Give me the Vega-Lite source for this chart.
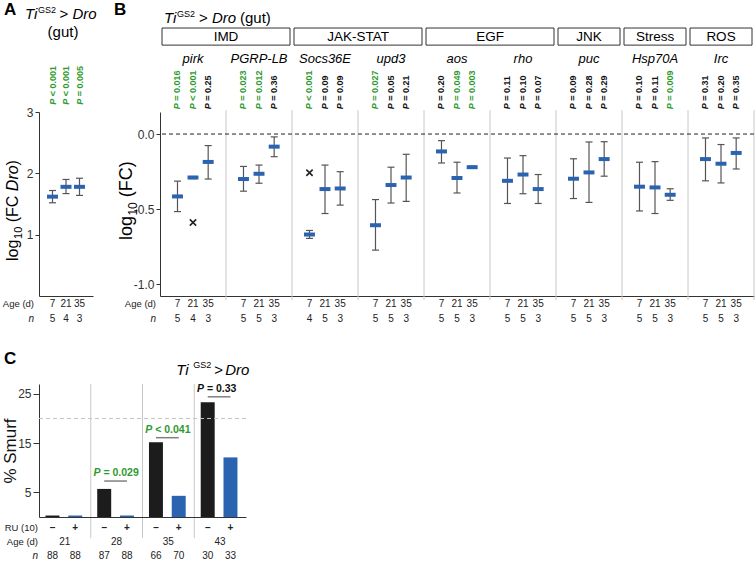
{
  "$schema": "https://vega.github.io/schema/vega-lite/v6.json",
  "padding": {"left": 1, "top": 0, "right": 0, "bottom": 0},
  "config": {
    "font": "Liberation Sans",
    "view": {"stroke": null},
    "axis": {"labelFont": "Liberation Sans", "titleFont": "Liberation Sans"},
    "text": {"font": "Liberation Sans"}
  },
  "datasets": {
    "a": [
      {"age": "7", "mean": 1.62, "lo": 1.52, "hi": 1.72, "p": "< 0.001", "sig": "sig", "n": 5},
      {"age": "21", "mean": 1.78, "lo": 1.67, "hi": 1.9, "p": "< 0.001", "sig": "sig", "n": 4},
      {"age": "35", "mean": 1.78, "lo": 1.64, "hi": 1.92, "p": "= 0.005", "sig": "sig", "n": 3}
    ],
    "b": [
      {"gene": "pirk", "age": "7", "mean": -0.416, "lo": -0.517, "hi": -0.314, "p": "= 0.016", "sig": "sig", "n": 5},
      {"gene": "pirk", "age": "21", "mean": -0.29, "lo": -0.297, "hi": -0.283, "p": "< 0.001", "sig": "sig", "n": 4},
      {"gene": "pirk", "age": "35", "mean": -0.186, "lo": -0.3, "hi": -0.077, "p": "= 0.25", "sig": "ns", "n": 3},
      {"gene": "PGRP-LB", "age": "7", "mean": -0.3, "lo": -0.381, "hi": -0.216, "p": "= 0.023", "sig": "sig", "n": 5},
      {"gene": "PGRP-LB", "age": "21", "mean": -0.265, "lo": -0.328, "hi": -0.207, "p": "= 0.012", "sig": "sig", "n": 5},
      {"gene": "PGRP-LB", "age": "35", "mean": -0.084, "lo": -0.151, "hi": -0.019, "p": "= 0.36", "sig": "ns", "n": 3},
      {"gene": "Socs36E", "age": "7", "mean": -0.67, "lo": -0.696, "hi": -0.643, "p": "< 0.001", "sig": "sig", "n": 4},
      {"gene": "Socs36E", "age": "21", "mean": -0.367, "lo": -0.53, "hi": -0.207, "p": "= 0.09", "sig": "ns", "n": 5},
      {"gene": "Socs36E", "age": "35", "mean": -0.363, "lo": -0.474, "hi": -0.251, "p": "= 0.09", "sig": "ns", "n": 3},
      {"gene": "upd3", "age": "7", "mean": -0.608, "lo": -0.774, "hi": -0.437, "p": "= 0.027", "sig": "sig", "n": 5},
      {"gene": "upd3", "age": "21", "mean": -0.34, "lo": -0.46, "hi": -0.221, "p": "= 0.05", "sig": "ns", "n": 5},
      {"gene": "upd3", "age": "35", "mean": -0.29, "lo": -0.449, "hi": -0.135, "p": "= 0.21", "sig": "ns", "n": 3},
      {"gene": "aos", "age": "7", "mean": -0.116, "lo": -0.193, "hi": -0.044, "p": "= 0.20", "sig": "ns", "n": 5},
      {"gene": "aos", "age": "21", "mean": -0.293, "lo": -0.393, "hi": -0.188, "p": "= 0.049", "sig": "sig", "n": 5},
      {"gene": "aos", "age": "35", "mean": -0.221, "lo": -0.228, "hi": -0.214, "p": "= 0.003", "sig": "sig", "n": 3},
      {"gene": "rho", "age": "7", "mean": -0.312, "lo": -0.463, "hi": -0.16, "p": "= 0.11", "sig": "ns", "n": 5},
      {"gene": "rho", "age": "21", "mean": -0.27, "lo": -0.398, "hi": -0.144, "p": "= 0.10", "sig": "ns", "n": 5},
      {"gene": "rho", "age": "35", "mean": -0.367, "lo": -0.463, "hi": -0.27, "p": "= 0.07", "sig": "ns", "n": 3},
      {"gene": "puc", "age": "7", "mean": -0.298, "lo": -0.43, "hi": -0.165, "p": "= 0.09", "sig": "ns", "n": 5},
      {"gene": "puc", "age": "21", "mean": -0.256, "lo": -0.456, "hi": -0.053, "p": "= 0.28", "sig": "ns", "n": 5},
      {"gene": "puc", "age": "35", "mean": -0.167, "lo": -0.281, "hi": -0.051, "p": "= 0.29", "sig": "ns", "n": 3},
      {"gene": "Hsp70A", "age": "7", "mean": -0.351, "lo": -0.513, "hi": -0.188, "p": "= 0.10", "sig": "ns", "n": 5},
      {"gene": "Hsp70A", "age": "21", "mean": -0.356, "lo": -0.53, "hi": -0.184, "p": "= 0.11", "sig": "ns", "n": 5},
      {"gene": "Hsp70A", "age": "35", "mean": -0.405, "lo": -0.442, "hi": -0.365, "p": "= 0.009", "sig": "sig", "n": 3},
      {"gene": "Irc", "age": "7", "mean": -0.167, "lo": -0.312, "hi": -0.026, "p": "= 0.31", "sig": "ns", "n": 5},
      {"gene": "Irc", "age": "21", "mean": -0.198, "lo": -0.326, "hi": -0.07, "p": "= 0.20", "sig": "ns", "n": 5},
      {"gene": "Irc", "age": "35", "mean": -0.126, "lo": -0.233, "hi": -0.026, "p": "= 0.35", "sig": "ns", "n": 3}
    ],
    "bout": [
      {"gene": "pirk", "age": "21", "value": -0.59},
      {"gene": "Socs36E", "age": "7", "value": -0.258}
    ],
    "groups": [
      {"group": "IMD", "g1": "pirk", "g2": "PGRP-LB"},
      {"group": "JAK-STAT", "g1": "Socs36E", "g2": "upd3"},
      {"group": "EGF", "g1": "aos", "g2": "rho"},
      {"group": "JNK", "g1": "puc", "g2": "puc"},
      {"group": "Stress", "g1": "Hsp70A", "g2": "Hsp70A"},
      {"group": "ROS", "g1": "Irc", "g2": "Irc"}
    ],
    "c": [
      {"age": "21", "ru": "–", "pct": 0.3, "n": 88},
      {"age": "21", "ru": "+", "pct": 0.3, "n": 88},
      {"age": "28", "ru": "–", "pct": 5.7, "n": 87},
      {"age": "28", "ru": "+", "pct": 0.3, "n": 88},
      {"age": "35", "ru": "–", "pct": 15.2, "n": 66},
      {"age": "35", "ru": "+", "pct": 4.3, "n": 70},
      {"age": "43", "ru": "–", "pct": 23.3, "n": 30},
      {"age": "43", "ru": "+", "pct": 12.1, "n": 33}
    ],
    "csig": [
      {"age": "28", "y": 7.3, "p": "= 0.029", "sig": "sig"},
      {"age": "35", "y": 16.1, "p": "< 0.041", "sig": "sig"},
      {"age": "43", "y": 24.4, "p": "= 0.33", "sig": "ns"}
    ]
  },
  "spacing": 26,
  "vconcat": [
    {
      "bounds": "flush",
      "spacing": 67,
      "hconcat": [
        {
          "width": 54,
          "height": 184,
          "layer": [
            {"data": {"name": "a"},
             "mark": {"type": "rule", "color": "#555", "strokeWidth": 1.2},
             "encoding": {
               "x": {"field": "age", "type": "ordinal", "title": null, "scale": {"type": "point", "domain": ["7", "21", "35"], "padding": 1}, "axis": {"orient": "bottom", "labels": false, "ticks": false, "title": null, "domainColor": "#333", "grid": false}},
               "y": {"field": "lo", "type": "quantitative", "title": null, "scale": {"domain": [0, 3], "nice": false, "zero": false}, "axis": {"values": [1, 2, 3], "format": "d", "title": null, "grid": false, "domainColor": "#333", "tickColor": "#333", "tickSize": 4, "labelFontSize": 12, "labelColor": "#333", "labelPadding": 2}},
               "y2": {"field": "hi"}
             }},
            {"data": {"name": "a"},
             "mark": {"type": "tick", "orient": "horizontal", "size": 7, "thickness": 1.2, "color": "#555", "opacity": 1},
             "encoding": {"x": {"field": "age", "type": "ordinal", "title": null}, "y": {"field": "lo", "type": "quantitative", "title": null}}},
            {"data": {"name": "a"},
             "mark": {"type": "tick", "orient": "horizontal", "size": 7, "thickness": 1.2, "color": "#555", "opacity": 1},
             "encoding": {"x": {"field": "age", "type": "ordinal", "title": null}, "y": {"field": "hi", "type": "quantitative", "title": null}}},
            {"data": {"name": "a"},
             "mark": {"type": "tick", "orient": "horizontal", "size": 11, "thickness": 4, "color": "#2a64b0", "opacity": 1},
             "encoding": {"x": {"field": "age", "type": "ordinal", "title": null}, "y": {"field": "mean", "type": "quantitative", "title": null}}},
            {"data": {"name": "a"},
             "mark": {"type": "text", "text": "P", "angle": 270, "align": "left", "baseline": "middle", "fontSize": 9, "fontWeight": "bold", "fontStyle": "italic"},
             "encoding": {"x": {"field": "age", "type": "ordinal", "title": null}, "y": {"datum": 3.119, "type": "quantitative", "title": null},
               "fill": {"field": "sig", "type": "nominal", "scale": {"domain": ["sig", "ns"], "range": ["#2e9a2e", "#111111"]}, "legend": null}}},
            {"data": {"name": "a"},
             "mark": {"type": "text", "angle": 270, "align": "left", "baseline": "middle", "fontSize": 9, "fontWeight": "bold", "dx": 8.5},
             "encoding": {"x": {"field": "age", "type": "ordinal", "title": null}, "y": {"datum": 3.119, "type": "quantitative", "title": null}, "text": {"field": "p"},
               "fill": {"field": "sig", "type": "nominal", "scale": {"domain": ["sig", "ns"], "range": ["#2e9a2e", "#111111"]}, "legend": null}}},
            {"data": {"name": "a"},
             "mark": {"type": "text", "baseline": "middle", "fontSize": 10, "color": "#222"},
             "encoding": {"x": {"field": "age", "type": "ordinal", "title": null}, "y": {"datum": -0.13, "type": "quantitative", "title": null}, "text": {"field": "age"}}},
            {"data": {"name": "a"},
             "mark": {"type": "text", "baseline": "middle", "fontSize": 10, "color": "#222"},
             "encoding": {"x": {"field": "age", "type": "ordinal", "title": null}, "y": {"datum": -0.375, "type": "quantitative", "title": null}, "text": {"field": "n"}}},
            {"data": {"values": [{}]},
             "mark": {"type": "text", "text": "A", "fontSize": 17, "fontWeight": "bold", "align": "left", "baseline": "alphabetic", "dx": -48.5},
             "encoding": {"x": {"datum": "7", "type": "ordinal", "title": null}, "y": {"datum": 4.582, "type": "quantitative", "title": null}}},
            {"data": {"values": [{}]},
             "mark": {"type": "text", "text": "Ti", "fontSize": 15, "fontStyle": "italic", "align": "left", "baseline": "alphabetic", "dx": -27.5},
             "encoding": {"x": {"datum": "7", "type": "ordinal", "title": null}, "y": {"datum": 4.516, "type": "quantitative", "title": null}}},
            {"data": {"values": [{}]},
             "mark": {"type": "text", "text": "GS2", "fontSize": 9, "align": "left", "baseline": "alphabetic", "dx": -14.5},
             "encoding": {"x": {"datum": "7", "type": "ordinal", "title": null}, "y": {"datum": 4.614, "type": "quantitative", "title": null}}},
            {"data": {"values": [{}]},
             "mark": {"type": "text", "text": ">", "fontSize": 15, "align": "left", "baseline": "alphabetic", "dx": 7},
             "encoding": {"x": {"datum": "7", "type": "ordinal", "title": null}, "y": {"datum": 4.516, "type": "quantitative", "title": null}}},
            {"data": {"values": [{}]},
             "mark": {"type": "text", "text": "Dro", "fontSize": 15, "fontStyle": "italic", "align": "left", "baseline": "alphabetic", "dx": 20},
             "encoding": {"x": {"datum": "7", "type": "ordinal", "title": null}, "y": {"datum": 4.516, "type": "quantitative", "title": null}}},
            {"data": {"values": [{}]},
             "mark": {"type": "text", "text": "(gut)", "fontSize": 15, "align": "center", "baseline": "alphabetic", "dx": 10.5},
             "encoding": {"x": {"datum": "7", "type": "ordinal", "title": null}, "y": {"datum": 4.223, "type": "quantitative", "title": null}}},
            {"data": {"values": [{}]},
             "mark": {"type": "text", "text": "Age (d)", "fontSize": 9.5, "align": "right", "baseline": "middle", "dx": -18.5, "color": "#222"},
             "encoding": {"x": {"datum": "7", "type": "ordinal", "title": null}, "y": {"datum": -0.13, "type": "quantitative", "title": null}}},
            {"data": {"values": [{}]},
             "mark": {"type": "text", "text": "n", "fontSize": 10, "fontStyle": "italic", "align": "right", "baseline": "middle", "dx": -18.5, "color": "#222"},
             "encoding": {"x": {"datum": "7", "type": "ordinal", "title": null}, "y": {"datum": -0.375, "type": "quantitative", "title": null}}},
            {"data": {"values": [{}]},
             "mark": {"type": "text", "text": "log", "fontSize": 16, "angle": 270, "align": "left", "baseline": "alphabetic", "dx": 0, "dy": -34.5},
             "encoding": {"x": {"datum": "7", "type": "ordinal", "title": null}, "y": {"datum": 0.571, "type": "quantitative", "title": null}}},
            {"data": {"values": [{}]},
             "mark": {"type": "text", "text": "10", "fontSize": 11, "angle": 270, "align": "left", "baseline": "alphabetic", "dx": 22, "dy": -30.5},
             "encoding": {"x": {"datum": "7", "type": "ordinal", "title": null}, "y": {"datum": 0.571, "type": "quantitative", "title": null}}},
            {"data": {"values": [{}]},
             "mark": {"type": "text", "text": "(FC", "fontSize": 16, "angle": 270, "align": "left", "baseline": "alphabetic", "dx": 38.7, "dy": -34.5},
             "encoding": {"x": {"datum": "7", "type": "ordinal", "title": null}, "y": {"datum": 0.571, "type": "quantitative", "title": null}}},
            {"data": {"values": [{}]},
             "mark": {"type": "text", "text": "Dro", "fontSize": 16, "fontStyle": "italic", "angle": 270, "align": "left", "baseline": "alphabetic", "dx": 69.8, "dy": -34.5},
             "encoding": {"x": {"datum": "7", "type": "ordinal", "title": null}, "y": {"datum": 0.571, "type": "quantitative", "title": null}}},
            {"data": {"values": [{}]},
             "mark": {"type": "text", "text": ")", "fontSize": 16, "angle": 270, "align": "left", "baseline": "alphabetic", "dx": 95.6, "dy": -34.5},
             "encoding": {"x": {"datum": "7", "type": "ordinal", "title": null}, "y": {"datum": 0.571, "type": "quantitative", "title": null}}}
          ]
        },
        {
          "width": 594,
          "height": 184,
          "layer": [
            {"data": {"name": "b"},
             "transform": [{"filter": "datum.age == '7'"}],
             "mark": {"type": "rule", "color": "#c8c8c8", "strokeWidth": 1},
             "encoding": {
               "x": {"field": "gene", "type": "nominal", "bandPosition": 1, "title": null, "scale": {"type": "band", "domain": ["pirk", "PGRP-LB", "Socs36E", "upd3", "aos", "rho", "puc", "Hsp70A", "Irc"], "paddingInner": 0, "paddingOuter": 0}, "axis": {"orient": "bottom", "labels": false, "ticks": false, "title": null, "domainColor": "#333", "grid": false}},
               "y": {"datum": 0.16, "type": "quantitative", "title": null},
               "y2": {"datum": -1.107}
             }},
            {"data": {"values": [{}]},
             "mark": {"type": "rule", "color": "#222", "strokeDash": [4, 3], "strokeWidth": 1},
             "encoding": {"y": {"datum": 0, "type": "quantitative", "title": null}}},
            {"data": {"name": "b"},
             "transform": [{"filter": "datum.age == '7'"}],
             "encoding": {"x": {"field": "gene", "type": "nominal", "bandPosition": 0.265, "title": null}},
             "layer": [
               {"mark": {"type": "rule", "color": "#555", "strokeWidth": 1.2},
                "encoding": {"y": {"field": "lo", "type": "quantitative", "title": null, "scale": {"domain": [-1.08, 0.147], "nice": false, "zero": false}, "axis": {"values": [0, -0.5, -1], "labelExpr": "replace(format(datum.value, '.1f'), '\u2212', '-')", "title": null, "grid": false, "domainColor": "#333", "tickColor": "#333", "tickSize": 4, "labelFontSize": 12, "labelColor": "#333", "labelPadding": 2}}, "y2": {"field": "hi"}}},
               {"mark": {"type": "rule", "color": "#555", "strokeWidth": 1.2}, "encoding": {"x": {"field": "gene", "type": "nominal", "bandPosition": 0.212, "title": null}, "x2": {"field": "gene", "bandPosition": 0.318}, "y": {"field": "lo", "type": "quantitative", "title": null}}},
               {"mark": {"type": "rule", "color": "#555", "strokeWidth": 1.2}, "encoding": {"x": {"field": "gene", "type": "nominal", "bandPosition": 0.212, "title": null}, "x2": {"field": "gene", "bandPosition": 0.318}, "y": {"field": "hi", "type": "quantitative", "title": null}}},
               {"mark": {"type": "rule", "color": "#2a64b0", "strokeWidth": 4}, "encoding": {"x": {"field": "gene", "type": "nominal", "bandPosition": 0.182, "title": null}, "x2": {"field": "gene", "bandPosition": 0.348}, "y": {"field": "mean", "type": "quantitative", "title": null}}},
               {"mark": {"type": "text", "text": "P", "angle": 270, "align": "left", "baseline": "middle", "fontSize": 9, "fontWeight": "bold", "fontStyle": "italic"},
                "encoding": {"y": {"datum": 0.165, "type": "quantitative", "title": null}, "fill": {"field": "sig", "type": "nominal", "scale": {"domain": ["sig", "ns"], "range": ["#2e9a2e", "#111111"]}, "legend": null}}},
               {"mark": {"type": "text", "angle": 270, "align": "left", "baseline": "middle", "fontSize": 9, "fontWeight": "bold", "dx": 8.5},
                "encoding": {"y": {"datum": 0.165, "type": "quantitative", "title": null}, "text": {"field": "p"}, "fill": {"field": "sig", "type": "nominal", "scale": {"domain": ["sig", "ns"], "range": ["#2e9a2e", "#111111"]}, "legend": null}}},
               {"mark": {"type": "text", "baseline": "middle", "fontSize": 10, "color": "#222"}, "encoding": {"y": {"datum": -1.133, "type": "quantitative", "title": null}, "text": {"field": "age"}}},
               {"mark": {"type": "text", "baseline": "middle", "fontSize": 10, "color": "#222"}, "encoding": {"y": {"datum": -1.233, "type": "quantitative", "title": null}, "text": {"field": "n"}}}
             ]},
            {"data": {"name": "b"},
             "transform": [{"filter": "datum.age == '21'"}],
             "encoding": {"x": {"field": "gene", "type": "nominal", "bandPosition": 0.5, "title": null}},
             "layer": [
               {"mark": {"type": "rule", "color": "#555", "strokeWidth": 1.2}, "encoding": {"y": {"field": "lo", "type": "quantitative", "title": null}, "y2": {"field": "hi"}}},
               {"mark": {"type": "rule", "color": "#555", "strokeWidth": 1.2}, "encoding": {"x": {"field": "gene", "type": "nominal", "bandPosition": 0.447, "title": null}, "x2": {"field": "gene", "bandPosition": 0.553}, "y": {"field": "lo", "type": "quantitative", "title": null}}},
               {"mark": {"type": "rule", "color": "#555", "strokeWidth": 1.2}, "encoding": {"x": {"field": "gene", "type": "nominal", "bandPosition": 0.447, "title": null}, "x2": {"field": "gene", "bandPosition": 0.553}, "y": {"field": "hi", "type": "quantitative", "title": null}}},
               {"mark": {"type": "rule", "color": "#2a64b0", "strokeWidth": 4}, "encoding": {"x": {"field": "gene", "type": "nominal", "bandPosition": 0.417, "title": null}, "x2": {"field": "gene", "bandPosition": 0.583}, "y": {"field": "mean", "type": "quantitative", "title": null}}},
               {"mark": {"type": "text", "text": "P", "angle": 270, "align": "left", "baseline": "middle", "fontSize": 9, "fontWeight": "bold", "fontStyle": "italic"},
                "encoding": {"y": {"datum": 0.165, "type": "quantitative", "title": null}, "fill": {"field": "sig", "type": "nominal", "scale": {"domain": ["sig", "ns"], "range": ["#2e9a2e", "#111111"]}, "legend": null}}},
               {"mark": {"type": "text", "angle": 270, "align": "left", "baseline": "middle", "fontSize": 9, "fontWeight": "bold", "dx": 8.5},
                "encoding": {"y": {"datum": 0.165, "type": "quantitative", "title": null}, "text": {"field": "p"}, "fill": {"field": "sig", "type": "nominal", "scale": {"domain": ["sig", "ns"], "range": ["#2e9a2e", "#111111"]}, "legend": null}}},
               {"mark": {"type": "text", "baseline": "middle", "fontSize": 10, "color": "#222"}, "encoding": {"y": {"datum": -1.133, "type": "quantitative", "title": null}, "text": {"field": "age"}}},
               {"mark": {"type": "text", "baseline": "middle", "fontSize": 10, "color": "#222"}, "encoding": {"y": {"datum": -1.233, "type": "quantitative", "title": null}, "text": {"field": "n"}}}
             ]},
            {"data": {"name": "b"},
             "transform": [{"filter": "datum.age == '35'"}],
             "encoding": {"x": {"field": "gene", "type": "nominal", "bandPosition": 0.73, "title": null}},
             "layer": [
               {"mark": {"type": "rule", "color": "#555", "strokeWidth": 1.2}, "encoding": {"y": {"field": "lo", "type": "quantitative", "title": null}, "y2": {"field": "hi"}}},
               {"mark": {"type": "rule", "color": "#555", "strokeWidth": 1.2}, "encoding": {"x": {"field": "gene", "type": "nominal", "bandPosition": 0.677, "title": null}, "x2": {"field": "gene", "bandPosition": 0.783}, "y": {"field": "lo", "type": "quantitative", "title": null}}},
               {"mark": {"type": "rule", "color": "#555", "strokeWidth": 1.2}, "encoding": {"x": {"field": "gene", "type": "nominal", "bandPosition": 0.677, "title": null}, "x2": {"field": "gene", "bandPosition": 0.783}, "y": {"field": "hi", "type": "quantitative", "title": null}}},
               {"mark": {"type": "rule", "color": "#2a64b0", "strokeWidth": 4}, "encoding": {"x": {"field": "gene", "type": "nominal", "bandPosition": 0.647, "title": null}, "x2": {"field": "gene", "bandPosition": 0.813}, "y": {"field": "mean", "type": "quantitative", "title": null}}},
               {"mark": {"type": "text", "text": "P", "angle": 270, "align": "left", "baseline": "middle", "fontSize": 9, "fontWeight": "bold", "fontStyle": "italic"},
                "encoding": {"y": {"datum": 0.165, "type": "quantitative", "title": null}, "fill": {"field": "sig", "type": "nominal", "scale": {"domain": ["sig", "ns"], "range": ["#2e9a2e", "#111111"]}, "legend": null}}},
               {"mark": {"type": "text", "angle": 270, "align": "left", "baseline": "middle", "fontSize": 9, "fontWeight": "bold", "dx": 8.5},
                "encoding": {"y": {"datum": 0.165, "type": "quantitative", "title": null}, "text": {"field": "p"}, "fill": {"field": "sig", "type": "nominal", "scale": {"domain": ["sig", "ns"], "range": ["#2e9a2e", "#111111"]}, "legend": null}}},
               {"mark": {"type": "text", "baseline": "middle", "fontSize": 10, "color": "#222"}, "encoding": {"y": {"datum": -1.133, "type": "quantitative", "title": null}, "text": {"field": "age"}}},
               {"mark": {"type": "text", "baseline": "middle", "fontSize": 10, "color": "#222"}, "encoding": {"y": {"datum": -1.233, "type": "quantitative", "title": null}, "text": {"field": "n"}}}
             ]},
            {"data": {"name": "bout"},
             "transform": [{"filter": "datum.age == '21'"}],
             "mark": {"type": "point", "shape": "M-1,-1L1,1M-1,1L1,-1", "filled": false, "size": 40, "strokeWidth": 1.6, "color": "#222", "opacity": 1},
             "encoding": {"x": {"field": "gene", "type": "nominal", "bandPosition": 0.5, "title": null}, "y": {"field": "value", "type": "quantitative", "title": null}}},
            {"data": {"name": "bout"},
             "transform": [{"filter": "datum.age == '7'"}],
             "mark": {"type": "point", "shape": "M-1,-1L1,1M-1,1L1,-1", "filled": false, "size": 40, "strokeWidth": 1.6, "color": "#222", "opacity": 1},
             "encoding": {"x": {"field": "gene", "type": "nominal", "bandPosition": 0.265, "title": null}, "y": {"field": "value", "type": "quantitative", "title": null}}},
            {"data": {"name": "b"},
             "transform": [{"filter": "datum.age == '7'"}],
             "mark": {"type": "text", "baseline": "middle", "fontSize": 13, "fontStyle": "italic"},
             "encoding": {"x": {"field": "gene", "type": "nominal", "title": null}, "y": {"datum": 0.5, "type": "quantitative", "title": null}, "text": {"field": "gene"}}},
            {"data": {"name": "groups"},
             "mark": {"type": "rect", "fill": "white", "stroke": "#333", "strokeWidth": 1, "xOffset": 2, "x2Offset": -2},
             "encoding": {"x": {"field": "g1", "type": "nominal", "bandPosition": 0, "title": null}, "x2": {"field": "g2", "bandPosition": 1}, "y": {"datum": 0.707, "type": "quantitative", "title": null}, "y2": {"datum": 0.593}}},
            {"data": {"name": "groups"},
             "transform": [{"filter": "datum.g1 != datum.g2"}],
             "mark": {"type": "text", "baseline": "middle", "fontSize": 13.5},
             "encoding": {"x": {"field": "g1", "type": "nominal", "bandPosition": 1, "title": null}, "y": {"datum": 0.647, "type": "quantitative", "title": null}, "text": {"field": "group"}}},
            {"data": {"name": "groups"},
             "transform": [{"filter": "datum.g1 == datum.g2"}],
             "mark": {"type": "text", "baseline": "middle", "fontSize": 13.5},
             "encoding": {"x": {"field": "g1", "type": "nominal", "bandPosition": 0.5, "title": null}, "y": {"datum": 0.647, "type": "quantitative", "title": null}, "text": {"field": "group"}}},
            {"data": {"values": [{}]},
             "mark": {"type": "text", "text": "B", "fontSize": 17, "fontWeight": "bold", "align": "left", "baseline": "alphabetic", "dx": -46},
             "encoding": {"x": {"datum": "pirk", "type": "nominal", "bandPosition": 0, "title": null}, "y": {"datum": 0.793, "type": "quantitative", "title": null}}},
            {"data": {"values": [{}]},
             "mark": {"type": "text", "text": "Ti", "fontSize": 15, "fontStyle": "italic", "align": "left", "baseline": "alphabetic", "dx": 4},
             "encoding": {"x": {"datum": "pirk", "type": "nominal", "bandPosition": 0, "title": null}, "y": {"datum": 0.74, "type": "quantitative", "title": null}}},
            {"data": {"values": [{}]},
             "mark": {"type": "text", "text": "GS2", "fontSize": 9, "align": "left", "baseline": "alphabetic", "dx": 17},
             "encoding": {"x": {"datum": "pirk", "type": "nominal", "bandPosition": 0, "title": null}, "y": {"datum": 0.78, "type": "quantitative", "title": null}}},
            {"data": {"values": [{}]},
             "mark": {"type": "text", "text": ">", "fontSize": 15, "align": "left", "baseline": "alphabetic", "dx": 39},
             "encoding": {"x": {"datum": "pirk", "type": "nominal", "bandPosition": 0, "title": null}, "y": {"datum": 0.74, "type": "quantitative", "title": null}}},
            {"data": {"values": [{}]},
             "mark": {"type": "text", "text": "Dro", "fontSize": 15, "fontStyle": "italic", "align": "left", "baseline": "alphabetic", "dx": 52},
             "encoding": {"x": {"datum": "pirk", "type": "nominal", "bandPosition": 0, "title": null}, "y": {"datum": 0.74, "type": "quantitative", "title": null}}},
            {"data": {"values": [{}]},
             "mark": {"type": "text", "text": "(gut)", "fontSize": 15, "align": "left", "baseline": "alphabetic", "dx": 80},
             "encoding": {"x": {"datum": "pirk", "type": "nominal", "bandPosition": 0, "title": null}, "y": {"datum": 0.74, "type": "quantitative", "title": null}}},
            {"data": {"values": [{}]},
             "mark": {"type": "text", "text": "Age (d)", "fontSize": 9.5, "align": "right", "baseline": "middle", "dx": -4, "color": "#222"},
             "encoding": {"x": {"datum": "pirk", "type": "nominal", "bandPosition": 0, "title": null}, "y": {"datum": -1.133, "type": "quantitative", "title": null}}},
            {"data": {"values": [{}]},
             "mark": {"type": "text", "text": "n", "fontSize": 10, "fontStyle": "italic", "align": "right", "baseline": "middle", "dx": -4, "color": "#222"},
             "encoding": {"x": {"datum": "pirk", "type": "nominal", "bandPosition": 0, "title": null}, "y": {"datum": -1.233, "type": "quantitative", "title": null}}},
            {"data": {"values": [{}]},
             "mark": {"type": "text", "text": "log", "fontSize": 18, "angle": 270, "align": "left", "baseline": "alphabetic", "dx": 0, "dy": -28},
             "encoding": {"x": {"datum": "pirk", "type": "nominal", "bandPosition": 0, "title": null}, "y": {"datum": -0.707, "type": "quantitative", "title": null}}},
            {"data": {"values": [{}]},
             "mark": {"type": "text", "text": "10", "fontSize": 12, "angle": 270, "align": "left", "baseline": "alphabetic", "dx": 24.5, "dy": -23},
             "encoding": {"x": {"datum": "pirk", "type": "nominal", "bandPosition": 0, "title": null}, "y": {"datum": -0.707, "type": "quantitative", "title": null}}},
            {"data": {"values": [{}]},
             "mark": {"type": "text", "text": "(FC)", "fontSize": 18, "angle": 270, "align": "left", "baseline": "alphabetic", "dx": 42.8, "dy": -28},
             "encoding": {"x": {"datum": "pirk", "type": "nominal", "bandPosition": 0, "title": null}, "y": {"datum": -0.707, "type": "quantitative", "title": null}}}
          ]
        }
      ]
    },
    {
      "width": 207,
      "height": 133,
      "layer": [
        {"data": {"name": "c"},
         "transform": [{"filter": "datum.ru == '–'"}],
         "mark": {"type": "rect", "color": "#1c1c1c"},
         "encoding": {
           "x": {"field": "age", "type": "nominal", "bandPosition": 0.125, "title": null, "scale": {"type": "band", "domain": ["21", "28", "35", "43"], "paddingInner": 0, "paddingOuter": 0}, "axis": {"orient": "bottom", "labels": false, "ticks": false, "title": null, "domainColor": "#333", "grid": false}},
           "x2": {"field": "age", "bandPosition": 0.395},
           "y": {"field": "pct", "type": "quantitative", "title": "% Smurf", "scale": {"domain": [0, 27], "nice": false, "zero": false}, "axis": {"values": [5, 10, 15, 20, 25], "format": "d", "title": "% Smurf", "titleFontSize": 17, "titleFontWeight": "normal", "titleColor": "#111", "titlePadding": -2, "grid": false, "domainColor": "#333", "tickColor": "#333", "tickSize": 6, "labelFontSize": 12, "labelColor": "#333", "labelPadding": 2}},
           "y2": {"datum": 0}
         }},
        {"data": {"name": "c"},
         "transform": [{"filter": "datum.ru == '+'"}],
         "mark": {"type": "rect", "color": "#2a64b0"},
         "encoding": {
           "x": {"field": "age", "type": "nominal", "bandPosition": 0.565, "title": null},
           "x2": {"field": "age", "bandPosition": 0.835},
           "y": {"field": "pct", "type": "quantitative", "title": "% Smurf"},
           "y2": {"datum": 0}
         }},
        {"data": {"name": "c"},
         "transform": [{"filter": "datum.ru == '–' && datum.age != '21'"}],
         "mark": {"type": "rule", "color": "#c8c8c8", "strokeWidth": 1},
         "encoding": {
           "x": {"field": "age", "type": "nominal", "bandPosition": 0, "title": null},
           "y": {"datum": 27, "type": "quantitative", "title": "% Smurf"},
           "y2": {"datum": -4.3}
         }},
        {"data": {"values": [{}]},
         "mark": {"type": "rule", "color": "#c4c4c4", "strokeDash": [4, 3], "strokeWidth": 1},
         "encoding": {"y": {"datum": 20, "type": "quantitative", "title": "% Smurf"}}},
        {"data": {"name": "csig"},
         "mark": {"type": "rule", "strokeWidth": 1.5, "color": "#808080"},
         "encoding": {"x": {"field": "age", "type": "nominal", "bandPosition": 0.26, "title": null}, "x2": {"field": "age", "bandPosition": 0.7}, "y": {"field": "y", "type": "quantitative", "title": "% Smurf"}}},
        {"data": {"name": "csig"},
         "mark": {"type": "text", "text": "P", "align": "left", "baseline": "alphabetic", "fontSize": 10.5, "fontWeight": "bold", "fontStyle": "italic", "dx": -22, "dy": -5},
         "encoding": {"x": {"field": "age", "type": "nominal", "bandPosition": 0.48, "title": null}, "y": {"field": "y", "type": "quantitative", "title": "% Smurf"},
           "fill": {"field": "sig", "type": "nominal", "scale": {"domain": ["sig", "ns"], "range": ["#2e9a2e", "#111111"]}, "legend": null}}},
        {"data": {"name": "csig"},
         "mark": {"type": "text", "align": "left", "baseline": "alphabetic", "fontSize": 10.5, "fontWeight": "bold", "dx": -12.2, "dy": -5},
         "encoding": {"x": {"field": "age", "type": "nominal", "bandPosition": 0.48, "title": null}, "y": {"field": "y", "type": "quantitative", "title": "% Smurf"}, "text": {"field": "p"},
           "fill": {"field": "sig", "type": "nominal", "scale": {"domain": ["sig", "ns"], "range": ["#2e9a2e", "#111111"]}, "legend": null}}},
        {"data": {"name": "c"},
         "transform": [{"filter": "datum.ru == '–'"}],
         "mark": {"type": "text", "baseline": "middle", "fontSize": 10, "fontWeight": "bold", "color": "#222"},
         "encoding": {"x": {"field": "age", "type": "nominal", "bandPosition": 0.26, "title": null}, "y": {"datum": -2.23, "type": "quantitative", "title": "% Smurf"}, "text": {"field": "ru"}}},
        {"data": {"name": "c"},
         "transform": [{"filter": "datum.ru == '+'"}],
         "mark": {"type": "text", "baseline": "middle", "fontSize": 10, "fontWeight": "bold", "color": "#222"},
         "encoding": {"x": {"field": "age", "type": "nominal", "bandPosition": 0.7, "title": null}, "y": {"datum": -2.23, "type": "quantitative", "title": "% Smurf"}, "text": {"field": "ru"}}},
        {"data": {"name": "c"},
         "transform": [{"filter": "datum.ru == '–'"}],
         "mark": {"type": "text", "baseline": "middle", "fontSize": 10, "color": "#222"},
         "encoding": {"x": {"field": "age", "type": "nominal", "bandPosition": 0.5, "title": null}, "y": {"datum": -5.08, "type": "quantitative", "title": "% Smurf"}, "text": {"field": "age"}}},
        {"data": {"name": "c"},
         "transform": [{"filter": "datum.ru == '–'"}],
         "mark": {"type": "text", "baseline": "middle", "fontSize": 10, "color": "#222"},
         "encoding": {"x": {"field": "age", "type": "nominal", "bandPosition": 0.26, "title": null}, "y": {"datum": -7.9, "type": "quantitative", "title": "% Smurf"}, "text": {"field": "n"}}},
        {"data": {"name": "c"},
         "transform": [{"filter": "datum.ru == '+'"}],
         "mark": {"type": "text", "baseline": "middle", "fontSize": 10, "color": "#222"},
         "encoding": {"x": {"field": "age", "type": "nominal", "bandPosition": 0.7, "title": null}, "y": {"datum": -7.9, "type": "quantitative", "title": "% Smurf"}, "text": {"field": "n"}}},
        {"data": {"values": [{}]},
         "mark": {"type": "text", "text": "C", "fontSize": 17, "fontWeight": "bold", "align": "left", "baseline": "alphabetic", "dx": -35},
         "encoding": {"x": {"datum": "21", "type": "nominal", "bandPosition": 0, "title": null}, "y": {"datum": 31.06, "type": "quantitative", "title": "% Smurf"}}},
        {"data": {"values": [{}]},
         "mark": {"type": "text", "text": "RU (10)", "fontSize": 9.5, "align": "right", "baseline": "middle", "dx": -1, "color": "#222"},
         "encoding": {"x": {"datum": "21", "type": "nominal", "bandPosition": 0, "title": null}, "y": {"datum": -2.23, "type": "quantitative", "title": "% Smurf"}}},
        {"data": {"values": [{}]},
         "mark": {"type": "text", "text": "Age (d)", "fontSize": 9.5, "align": "right", "baseline": "middle", "dx": -1, "color": "#222"},
         "encoding": {"x": {"datum": "21", "type": "nominal", "bandPosition": 0, "title": null}, "y": {"datum": -5.08, "type": "quantitative", "title": "% Smurf"}}},
        {"data": {"values": [{}]},
         "mark": {"type": "text", "text": "n", "fontSize": 10, "fontStyle": "italic", "align": "right", "baseline": "middle", "dx": -1, "color": "#222"},
         "encoding": {"x": {"datum": "21", "type": "nominal", "bandPosition": 0, "title": null}, "y": {"datum": -7.9, "type": "quantitative", "title": "% Smurf"}}},
        {"data": {"values": [{}]},
         "mark": {"type": "text", "text": "Ti", "fontSize": 15, "fontStyle": "italic", "align": "left", "baseline": "alphabetic", "dx": -18},
         "encoding": {"x": {"datum": "43", "type": "nominal", "bandPosition": 0, "title": null}, "y": {"datum": 28.83, "type": "quantitative", "title": "% Smurf"}}},
        {"data": {"values": [{}]},
         "mark": {"type": "text", "text": "GS2", "fontSize": 9, "align": "left", "baseline": "alphabetic", "dx": -1},
         "encoding": {"x": {"datum": "43", "type": "nominal", "bandPosition": 0, "title": null}, "y": {"datum": 30.25, "type": "quantitative", "title": "% Smurf"}}},
        {"data": {"values": [{}]},
         "mark": {"type": "text", "text": ">", "fontSize": 15, "align": "left", "baseline": "alphabetic", "dx": 20},
         "encoding": {"x": {"datum": "43", "type": "nominal", "bandPosition": 0, "title": null}, "y": {"datum": 28.83, "type": "quantitative", "title": "% Smurf"}}},
        {"data": {"values": [{}]},
         "mark": {"type": "text", "text": "Dro", "fontSize": 15, "fontStyle": "italic", "align": "left", "baseline": "alphabetic", "dx": 31},
         "encoding": {"x": {"datum": "43", "type": "nominal", "bandPosition": 0, "title": null}, "y": {"datum": 28.83, "type": "quantitative", "title": "% Smurf"}}}
      ]
    }
  ]
}
